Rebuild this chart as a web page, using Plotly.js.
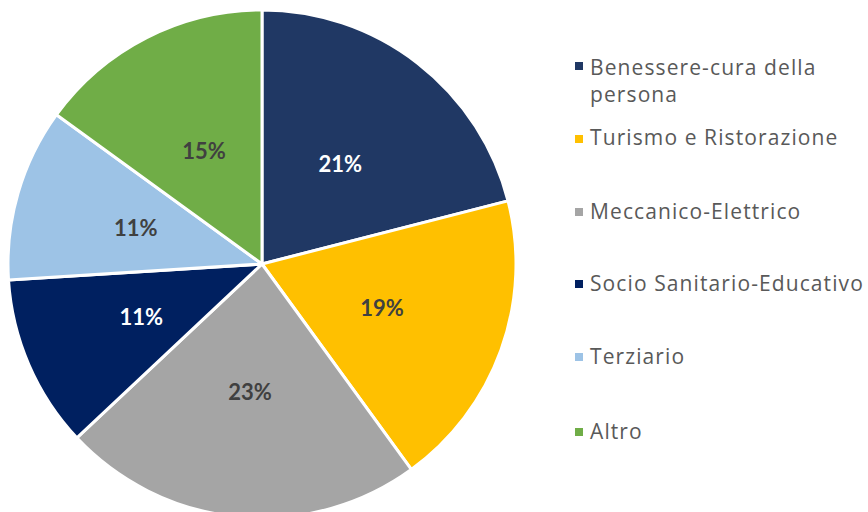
<!DOCTYPE html>
<html>
<head>
<meta charset="utf-8">
<script src="https://cdn.plot.ly/plotly-3.0.1.min.js"></script>
<style>
html,body{margin:0;padding:0;overflow:hidden;background:#fff;}
#chart{width:868px;height:520px;}
#chart .annotation-text{letter-spacing:1.1px;}
</style>
</head>
<body>
<div id="chart"></div>
<script>
const categories = ["Benessere-cura della persona", "Turismo e Ristorazione", "Meccanico-Elettrico", "Socio Sanitario-Educativo", "Terziario", "Altro"];
const legendLabels = ["Benessere-cura della<br>persona", "Turismo e Ristorazione", "Meccanico-Elettrico", "Socio Sanitario-Educativo", "Terziario", "Altro"];
const values = [21, 19, 23, 11, 11, 15];
const colors = ["#203864", "#FFC000", "#A5A5A5", "#002060", "#9DC3E6", "#70AD47"];
const textColors = ["#FFFFFF", "#404040", "#404040", "#FFFFFF", "#404040", "#404040"];

const W = 868, H = 520;
const cx = 262, cy = 264, R = 254;
const pieBase = {
  type: "pie",
  labels: categories,
  values: values,
  sort: false,
  direction: "clockwise",
  rotation: 0,
  showlegend: false,
  hoverinfo: "label+percent"
};
const mainPie = Object.assign({}, pieBase, {
  marker: {colors: colors, line: {color: "#FFFFFF", width: 3}},
  textinfo: "none",
  domain: {x: [(cx - R) / W, (cx + R) / W], y: [1 - (cy + R) / H, 1 - (cy - R) / H]}
});
const R2 = 176;
const labelPie = Object.assign({}, pieBase, {
  marker: {colors: colors.map(() => "rgba(0,0,0,0)"), line: {width: 0}},
  hole: 0.45,
  texttemplate: "%{value}%",
  textposition: "inside",
  insidetextorientation: "horizontal",
  insidetextfont: {family: "Lato, sans-serif", size: 22, color: textColors, weight: "bold"},
  domain: {x: [(cx - R2) / W, (cx + R2) / W], y: [1 - (cy + R2) / H, 1 - (cy - R2) / H]}
});

const legendY = [80, 137, 211, 283, 356, 431];
const markerY = [66, 139, 212, 284, 357, 432];
const annotations = legendLabels.map((t, i) => ({
  xref: "paper", yref: "paper",
  x: 588 / W, y: 1 - legendY[i] / H,
  xanchor: "left", yanchor: "middle", align: "left",
  text: t, showarrow: false,
  font: {family: "'Open Sans', sans-serif", size: 21, color: "#595959"}
}));
const shapes = colors.map((c, i) => ({
  type: "rect", xref: "paper", yref: "paper",
  x0: 575 / W, x1: 583 / W,
  y0: 1 - (markerY[i] + 4) / H, y1: 1 - (markerY[i] - 4) / H,
  fillcolor: c, line: {width: 0}
}));

Plotly.newPlot("chart", [mainPie, labelPie], {
  width: W, height: H,
  margin: {l: 0, r: 0, t: 0, b: 0},
  paper_bgcolor: "#FFFFFF",
  showlegend: false,
  annotations: annotations,
  shapes: shapes
}, {displayModeBar: false, staticPlot: true});
</script>
</body>
</html>
